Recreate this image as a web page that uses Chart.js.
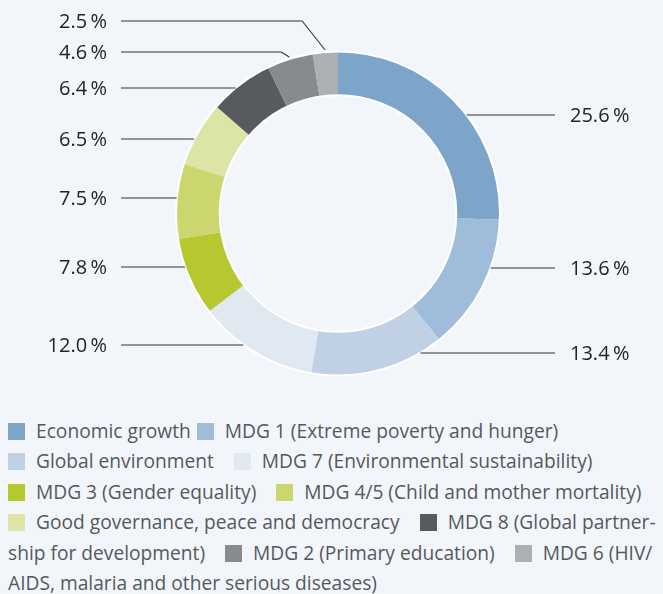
<!DOCTYPE html>
<html>
<head>
<meta charset="utf-8">
<script src="https://cdn.jsdelivr.net/npm/chart.js@4"></script>
<style>
  html, body { margin: 0; padding: 0; background: #F2F6FB; }
  body { width: 663px; height: 594px; overflow: hidden; font-family: "Open Sans", sans-serif; }
  #chart-wrap { position: relative; width: 663px; height: 412px; }
  #legend { position: absolute; left: 8px; top: 416px; width: 700px; font-size: 19.2px; line-height: 30.4px; color: #55595d; }
  #legend .item { white-space: nowrap; margin-right: 15px; }
  #legend .item:first-child { margin-right: 1px; }
  #legend .box { display: inline-block; width: 17px; height: 17px; margin-right: 11px; vertical-align: -2px; }
</style>
</head>
<body>
<div id="chart-wrap"><canvas id="donut"></canvas></div>
<div id="legend"></div>
<script>
// ============================================================
// Share of funding by sector / MDG — doughnut with leader labels
// ============================================================

var categories = [
  'Economic growth',
  'MDG 1 (Extreme poverty and hunger)',
  'Global environment',
  'MDG 7 (Environmental sustainability)',
  'MDG 3 (Gender equality)',
  'MDG 4/5 (Child and mother mortality)',
  'Good governance, peace and democracy',
  'MDG 8 (Global partner-\nship for development)',
  'MDG 2 (Primary education)',
  'MDG 6 (HIV/\nAIDS, malaria and other serious diseases)'
];
var shares = [25.6, 13.6, 13.4, 12.0, 7.8, 7.5, 6.5, 6.4, 4.6, 2.5];
var valueLabels = ['25.6\u2009%', '13.6\u2009%', '13.4\u2009%', '12.0\u2009%', '7.8\u2009%',
                   '7.5\u2009%', '6.5\u2009%', '6.4\u2009%', '4.6\u2009%', '2.5\u2009%'];
var colors = ['#7DA4C9', '#A0BCDB', '#C0D1E6', '#E0E8F1', '#B6C72F',
              '#CBD66F', '#DDE5A6', '#575B5F', '#878A8E', '#ACAFB3'];

// label layout: side, vertical offset of the label from the ring centre,
// and for the two small top slices an elbow (line bends down to slice middle)
var labelLayout = [
  { side: 'r', dy: -98.5 },
  { side: 'r', dy: 54.5 },
  { side: 'r', dy: 139.5 },
  { side: 'l', dy: 131.5 },
  { side: 'l', dy: 53.5 },
  { side: 'l', dy: -15.5 },
  { side: 'l', dy: -74.5 },
  { side: 'l', dy: -125.5 },
  { side: 'l', dy: -161.5, elbow: 8 },
  { side: 'l', dy: -192.5, elbow: 23 }
];

var TEXT_COLOR = '#222426';
var LINE_COLOR = '#333537';

// white rims at the outer and inner edge of the ring
var rimPlugin = {
  id: 'rim',
  afterDatasetsDraw: function(chart) {
    var arc = chart.getDatasetMeta(0).data[0];
    if (!arc) return;
    var ctx = chart.ctx;
    ctx.save();
    ctx.strokeStyle = '#ffffff';
    ctx.lineWidth = 2;
    ctx.beginPath();
    ctx.arc(arc.x, arc.y, arc.outerRadius, 0, Math.PI * 2);
    ctx.stroke();
    ctx.beginPath();
    ctx.arc(arc.x, arc.y, arc.innerRadius, 0, Math.PI * 2);
    ctx.stroke();
    ctx.restore();
  }
};

// leader lines + percentage labels
var leaderPlugin = {
  id: 'leaders',
  afterDraw: function(chart) {
    var meta = chart.getDatasetMeta(0);
    var ctx = chart.ctx;
    ctx.save();
    ctx.font = '20px "Open Sans", sans-serif';
    ctx.textBaseline = 'middle';
    meta.data.forEach(function(arc, i) {
      var lay = labelLayout[i];
      var R = arc.outerRadius;
      var cx = arc.x, cy = arc.y;
      var y = cy + lay.dy;
      var outer = R + 55, gap = 14;
      ctx.strokeStyle = LINE_COLOR;
      ctx.lineWidth = 1.1;
      ctx.beginPath();
      if (lay.elbow) {
        var mid = (arc.startAngle + arc.endAngle) / 2;
        var ax = cx + (R + 2) * Math.cos(mid);
        var ay = cy + (R + 2) * Math.sin(mid);
        var bx = ax - lay.elbow;
        ctx.moveTo(cx - outer, y);
        ctx.lineTo(bx, y);
        ctx.lineTo(ax, ay);
      } else {
        var dx = Math.sqrt(Math.max(R * R - lay.dy * lay.dy, 0));
        var sign = lay.side === 'r' ? 1 : -1;
        ctx.moveTo(cx + sign * dx, y);
        ctx.lineTo(cx + sign * outer, y);
      }
      ctx.stroke();
      ctx.fillStyle = TEXT_COLOR;
      if (lay.side === 'r') {
        ctx.textAlign = 'left';
        ctx.fillText(valueLabels[i], cx + outer + gap + 1, y + 1);
      } else {
        ctx.textAlign = 'right';
        ctx.fillText(valueLabels[i], cx - outer - gap, y + 1);
      }
    });
    ctx.restore();
  }
};

var chart = new Chart(document.getElementById('donut'), {
  type: 'doughnut',
  data: {
    labels: categories,
    datasets: [{
      data: shares,
      backgroundColor: colors,
      borderWidth: 0,
      hoverOffset: 0
    }]
  },
  options: {
    responsive: true,
    maintainAspectRatio: false,
    animation: false,
    cutout: '73%',
    layout: { padding: { left: 176, right: 163, top: 51.5, bottom: 36.5 } },
    plugins: {
      legend: { display: false },
      tooltip: { enabled: false }
    }
  },
  plugins: [rimPlugin, leaderPlugin]
});

// HTML legend built from the same arrays
var html = '';
categories.forEach(function(c, i) {
  html += '<span class="item"><span class="box" style="background:' + colors[i] + '"></span>' +
          c.replace('\n', '<br>') + '</span> ';
});
document.getElementById('legend').innerHTML = html;
</script>
</body>
</html>
